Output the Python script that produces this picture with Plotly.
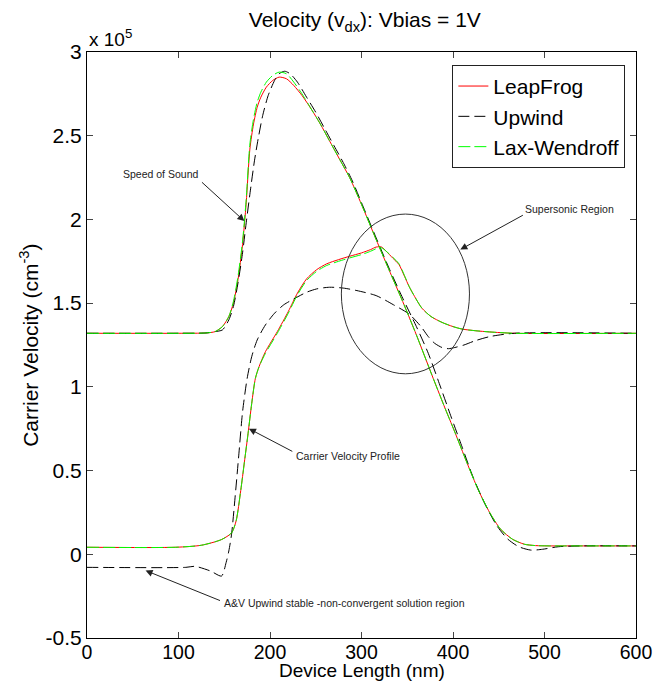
import plotly.graph_objects as go

# ---------------- data (values in units of 1e5) ----------------
# Curve A (upper start, 1.32 -> peak -> 0.05)
xa_lf = [0, 100, 130, 140, 148, 155, 160, 165, 170, 174, 178, 182, 186, 190, 196, 203, 210, 218, 226, 235, 245, 255, 265, 276, 287, 300, 316, 330, 345, 360, 377, 390, 402, 415, 428, 440, 452, 465, 478, 490, 505, 520, 600]
ya_lf = [1.32, 1.32, 1.322, 1.33, 1.36, 1.42, 1.50, 1.64, 1.85, 2.10, 2.42, 2.57, 2.67, 2.73, 2.79, 2.83, 2.85, 2.84, 2.80, 2.74, 2.66, 2.57, 2.47, 2.36, 2.25, 2.09, 1.88, 1.70, 1.51, 1.31, 1.07, 0.89, 0.73, 0.55, 0.38, 0.25, 0.15, 0.09, 0.06, 0.052, 0.05, 0.05, 0.05]

xa_lw = xa_lf
ya_lw = [1.32, 1.32, 1.322, 1.33, 1.36, 1.42, 1.51, 1.66, 1.87, 2.12, 2.45, 2.60, 2.70, 2.76, 2.82, 2.86, 2.88, 2.87, 2.82, 2.75, 2.66, 2.57, 2.47, 2.36, 2.25, 2.09, 1.88, 1.70, 1.51, 1.31, 1.07, 0.89, 0.73, 0.55, 0.38, 0.25, 0.15, 0.09, 0.06, 0.052, 0.05, 0.05, 0.05]

xa_up = [0, 100, 130, 140, 148, 155, 160, 165, 170, 174, 178, 183, 187, 192, 198, 205, 210, 216, 222, 230, 240, 250, 260, 270, 280, 290, 300, 316, 330, 345, 360, 373, 385, 398, 410, 422, 435, 448, 460, 472, 485, 498, 515, 540, 600]
ya_up = [1.32, 1.32, 1.322, 1.33, 1.34, 1.40, 1.48, 1.62, 1.80, 1.98, 2.15, 2.35, 2.48, 2.62, 2.74, 2.83, 2.87, 2.885, 2.87, 2.82, 2.73, 2.64, 2.54, 2.44, 2.34, 2.23, 2.10, 1.89, 1.71, 1.53, 1.36, 1.20, 1.02, 0.82, 0.64, 0.46, 0.30, 0.17, 0.09, 0.045, 0.025, 0.03, 0.045, 0.05, 0.05]

# Curve B (lower start, 0.04 -> hump -> 1.32)
xb_lf = [0, 97, 125, 147, 158, 163, 168, 172, 176, 180, 184, 188, 195, 208, 220, 230, 240, 251, 262, 275, 287, 300, 310, 316, 322, 327, 334, 341, 347, 352, 358, 366, 376, 388, 400, 410, 425, 440, 467, 600]
yb_lf = [0.042, 0.042, 0.054, 0.088, 0.128, 0.2, 0.38, 0.55, 0.72, 0.90, 1.05, 1.12, 1.21, 1.33, 1.45, 1.56, 1.645, 1.70, 1.735, 1.76, 1.78, 1.80, 1.82, 1.835, 1.835, 1.81, 1.77, 1.73, 1.66, 1.60, 1.54, 1.47, 1.42, 1.385, 1.36, 1.345, 1.335, 1.328, 1.32, 1.32]

xb_lw = xb_lf
yb_lw = [0.042, 0.042, 0.054, 0.088, 0.128, 0.2, 0.38, 0.55, 0.72, 0.90, 1.05, 1.12, 1.20, 1.32, 1.44, 1.55, 1.635, 1.69, 1.725, 1.75, 1.77, 1.79, 1.81, 1.825, 1.83, 1.81, 1.775, 1.735, 1.665, 1.60, 1.54, 1.47, 1.42, 1.385, 1.36, 1.345, 1.335, 1.328, 1.32, 1.32]

xb_up = [0, 108, 118, 135, 147, 152, 155, 158, 162, 166, 170, 175, 180, 186, 195, 205, 215, 226, 240, 251, 265, 280, 295, 316, 335, 352, 365, 373, 380, 388, 395, 402, 412, 424, 440, 467, 600]
yb_up = [-0.078, -0.078, -0.072, -0.10, -0.13, -0.05, 0.02, 0.12, 0.35, 0.60, 0.85, 1.05, 1.18, 1.28, 1.37, 1.44, 1.49, 1.525, 1.565, 1.585, 1.595, 1.59, 1.575, 1.545, 1.49, 1.435, 1.36, 1.30, 1.26, 1.235, 1.228, 1.235, 1.25, 1.275, 1.30, 1.32, 1.32]

x_ticks = [0, 100, 200, 300, 400, 500, 600]
y_ticks = [-0.5, 0, 0.5, 1, 1.5, 2, 2.5, 3]
y_ticklabels = ["-0.5", "0", "0.5", "1", "1.5", "2", "2.5", "3"]

series_names = ["LeapFrog", "Upwind", "Lax-Wendroff"]
series_colors = ["#ff0000", "#000000", "#00ff00"]
series_dash = ["solid", "11px,5px", "12px,4px"]

FONT = "Liberation Sans, Arial, sans-serif"
NARROW = "Liberation Sans Narrow, Arial Narrow, Liberation Sans, sans-serif"

fig = go.Figure()
curves = [
    (xa_lf, ya_lf, xb_lf, yb_lf),
    (xa_up, ya_up, xb_up, yb_up),
    (xa_lw, ya_lw, xb_lw, yb_lw),
]
for i, (xa, ya, xb, yb) in enumerate(curves):
    line = dict(color=series_colors[i], width=1, dash=series_dash[i], shape="spline", smoothing=0.7)
    fig.add_trace(go.Scatter(x=xa, y=ya, mode="lines", line=line, name=series_names[i],
                             legendgroup=series_names[i], showlegend=True))
    fig.add_trace(go.Scatter(x=xb, y=yb, mode="lines", line=line, name=series_names[i],
                             legendgroup=series_names[i], showlegend=False))

# ellipse (supersonic region)
fig.add_shape(type="circle", xref="x", yref="y", x0=278, x1=418, y0=1.078, y1=2.032,
              line=dict(color="#333333", width=1))

annots = []
def arrow(tip, tail):
    annots.append(dict(x=tip[0], y=tip[1], ax=tail[0], ay=tail[1], xref="x", yref="y",
                       axref="x", ayref="y", text="", showarrow=True, arrowhead=2,
                       arrowsize=1.4, arrowwidth=1, arrowcolor="#222222",
                       font=dict(size=10)))

def label(x, y, txt, anchor="center"):
    annots.append(dict(x=x, y=y, xref="x", yref="y", text=txt, showarrow=False,
                       xanchor=anchor, yanchor="middle",
                       font=dict(family=NARROW, size=10.5, color="#222222")))

label(124, 2.27, "Speed of Sound", "right")
arrow((172, 1.99), (124, 2.23))
label(476, 2.06, "Supersonic Region", "left")
arrow((408, 1.82), (478, 2.03))
label(226, 0.59, "Carrier Velocity Profile", "left")
arrow((177, 0.75), (226, 0.61))
label(147, -0.29, "A&V Upwind stable -non-convergent solution region", "left")
arrow((64, -0.097), (147, -0.28))

# exponent label
annots.append(dict(x=0, y=1.0, xref="paper", yref="paper", text="x 10<sup>5</sup>",
                   showarrow=False, xanchor="left", yanchor="bottom",
                   font=dict(family=FONT, size=19, color="#000000")))
# axis titles
annots.append(dict(x=0.5, y=-0.0751, xref="paper", yref="paper", text="Device Length (nm)",
                   showarrow=False, xanchor="center", yanchor="bottom", borderpad=0,
                   font=dict(family=FONT, size=19, color="#000000")))
annots.append(dict(x=-0.106, y=0.5, xref="paper", yref="paper",
                   text="Carrier Velocity (cm<sup>-3</sup>)", textangle=-90,
                   showarrow=False, xanchor="center", yanchor="middle",
                   font=dict(family=FONT, size=21, color="#000000")))

# page body has an 8px margin: plot box lands at x 87..643, y 52..638 on the page
fig.update_layout(
    width=656, height=674,
    margin=dict(l=79, r=21, t=44, b=44),
    paper_bgcolor="white", plot_bgcolor="white",
    font=dict(family=FONT, size=20, color="#000000"),
    title=dict(text="Velocity (v<sub>dx</sub>): Vbias = 1V", x=0.544, xanchor="center",
               y=0.982, yanchor="middle", font=dict(family=FONT, size=21, color="#000000")),
    showlegend=True,
    legend=dict(x=0.6655, y=0.978, xanchor="left", yanchor="top", bgcolor="white",
                bordercolor="#222222", borderwidth=1, font=dict(family=FONT, size=21),
                tracegroupgap=0, itemwidth=30),
    annotations=annots,
)
fig.update_xaxes(range=[0, 600], tickvals=x_ticks, ticks="inside", ticklen=6,
                 showline=True, linecolor="#000000", linewidth=1, mirror="ticks",
                 showgrid=False, zeroline=False, tickfont=dict(size=19.5),
                 ticklabelstandoff=-3, ticklabeloverflow="allow")
fig.update_yaxes(range=[-0.5, 3], tickvals=y_ticks, ticktext=y_ticklabels, ticks="inside",
                 ticklen=6, showline=True, linecolor="#000000", linewidth=1, mirror="ticks",
                 showgrid=False, zeroline=False, tickfont=dict(size=21))

fig.write_html("out.html")
